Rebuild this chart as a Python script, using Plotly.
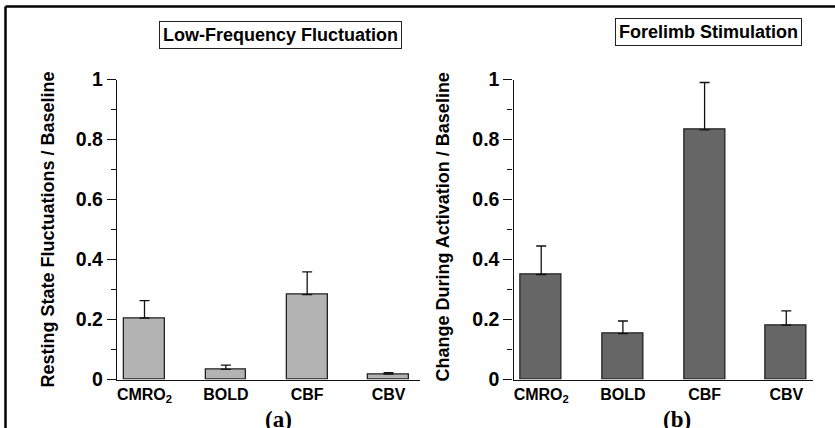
import plotly.graph_objects as go

categories = ["CMRO<sub>2</sub>", "BOLD", "CBF", "CBV"]
rest_values = [0.205, 0.034, 0.283, 0.018]
rest_errors = [0.058, 0.014, 0.076, 0.005]
stim_values = [0.350, 0.153, 0.832, 0.181]
stim_errors = [0.095, 0.042, 0.158, 0.048]
y_ticks = [0, 0.2, 0.4, 0.6, 0.8, 1]
y_ticktext = ["0", "0.2", "0.4", "0.6", "0.8", "1"]

W, H = 835, 428
FONT = "Liberation Sans, Arial, Helvetica, sans-serif"
SERIF = "Liberation Serif, Times New Roman, serif"


def px_x(p):
    return p / W


def px_y(p):
    return 1 - p / H


xs = list(range(len(categories)))

fig = go.Figure()
fig.add_trace(go.Bar(
    x=xs, y=rest_values, width=0.5,
    marker=dict(color="#b3b3b3", line=dict(color="#222222", width=1.3)),
    error_y=dict(type="data", array=rest_errors, arrayminus=[0] * 4, symmetric=False,
                 color="#111111", thickness=1.3, width=5),
    xaxis="x", yaxis="y", showlegend=False,
))
fig.add_trace(go.Bar(
    x=xs, y=stim_values, width=0.5,
    marker=dict(color="#666666", line=dict(color="#222222", width=1.3)),
    error_y=dict(type="data", array=stim_errors, arrayminus=[0] * 4, symmetric=False,
                 color="#111111", thickness=1.3, width=5),
    xaxis="x2", yaxis="y2", showlegend=False,
))

ydom = [px_y(379.5), px_y(79.5)]
common_x = dict(
    tickmode="array", tickvals=xs, ticktext=categories,
    showline=True, linecolor="#111111", linewidth=1.3,
    ticks="", showgrid=False, zeroline=False, fixedrange=True,
    tickfont=dict(family=FONT, size=16, color="black", weight="bold"),
    automargin=False,
)
common_y = dict(
    range=[0, 1], tickmode="array", tickvals=y_ticks, ticktext=y_ticktext,
    showline=True, linecolor="#111111", linewidth=1.3,
    ticks="outside", ticklen=9, tickwidth=1.3, tickcolor="#111111",
    minor=dict(ticks="outside", ticklen=5, dtick=0.1, tick0=0, tickwidth=1.3, tickcolor="#111111", showgrid=False),
    showgrid=False, zeroline=False, fixedrange=True,
    tickfont=dict(family=FONT, size=19.5, color="black", weight="bold"),
    automargin=False,
)

fig.update_layout(
    width=W, height=H,
    margin=dict(l=0, r=0, t=0, b=0),
    paper_bgcolor="white", plot_bgcolor="white",
    bargap=0,
    xaxis=dict(domain=[px_x(117), px_x(420)], range=[-0.338, 3.387], anchor="y", **common_x),
    yaxis=dict(domain=ydom, anchor="x", **common_y),
    xaxis2=dict(domain=[px_x(513.5), px_x(813)], range=[-0.339, 3.327], anchor="y2", **common_x),
    yaxis2=dict(domain=ydom, anchor="x2", **common_y),
)

annotations = [
    dict(text="Resting State Fluctuations / Baseline", x=px_x(47), y=px_y(229.5), textangle=-90,
         font=dict(family=FONT, size=18, color="black", weight="bold")),
    dict(text="Change During Activation / Baseline", x=px_x(442), y=px_y(227.5), textangle=-90,
         font=dict(family=FONT, size=18, color="black", weight="bold")),
    dict(text="Low-Frequency Fluctuation", x=px_x(280.5), y=px_y(35),
         font=dict(family=FONT, size=18, color="black", weight="bold"),
         bordercolor="#222222", borderwidth=1, borderpad=3, bgcolor="white"),
    dict(text="Forelimb Stimulation", x=px_x(708.5), y=px_y(32.5),
         font=dict(family=FONT, size=18, color="black", weight="bold"),
         bordercolor="#222222", borderwidth=1, borderpad=3, bgcolor="white"),
    dict(text="(a)", x=px_x(278), y=px_y(419),
         font=dict(family=SERIF, size=23, color="black", weight="bold")),
    dict(text="(b)", x=px_x(677), y=px_y(419),
         font=dict(family=SERIF, size=23, color="black", weight="bold")),
]
for a in annotations:
    a.update(xref="paper", yref="paper", showarrow=False, xanchor="center", yanchor="middle")
fig.update_layout(annotations=annotations)

fig.update_layout(shapes=[
    dict(type="line", xref="paper", yref="paper", x0=px_x(5.5), x1=1.0, y0=px_y(6.5), y1=px_y(6.5),
         line=dict(color="black", width=2.5)),
    dict(type="line", xref="paper", yref="paper", x0=px_x(5.5), x1=px_x(5.5), y0=px_y(6.5), y1=0,
         line=dict(color="black", width=2.5)),
])

fig.write_html("out.html", config={"displayModeBar": False},
               post_script="document.body.style.margin='0';document.body.style.padding='0';")
